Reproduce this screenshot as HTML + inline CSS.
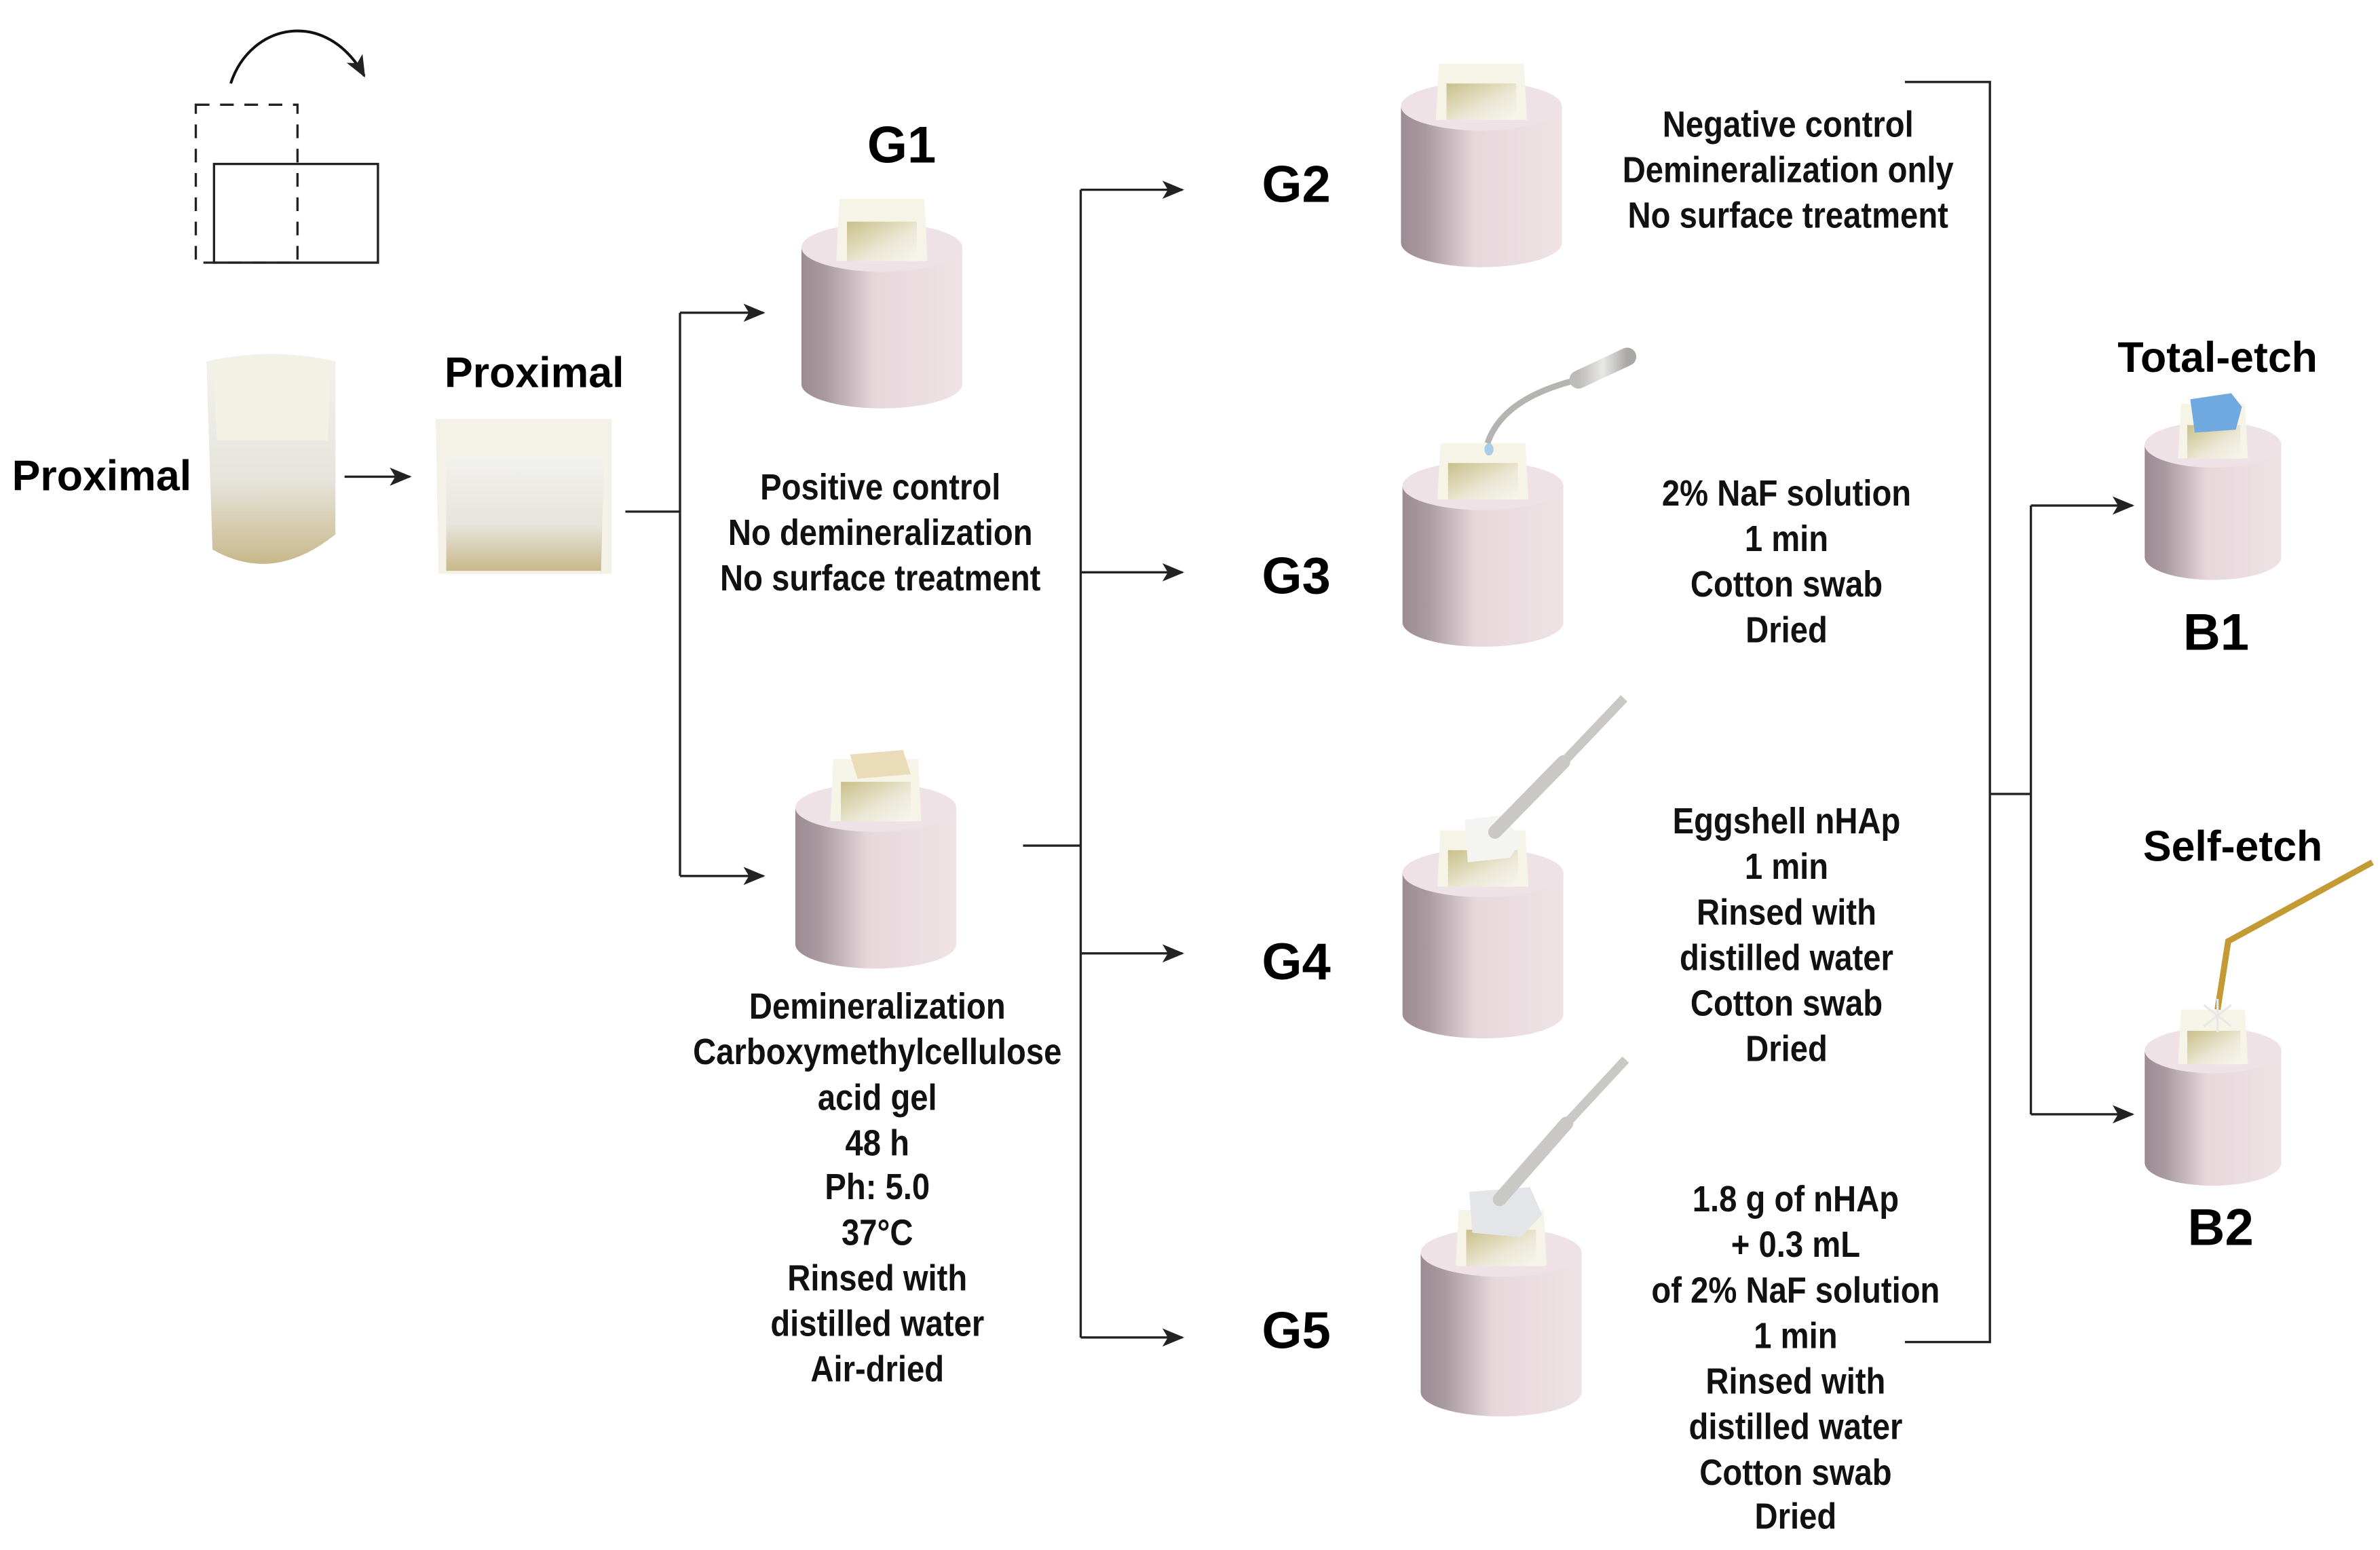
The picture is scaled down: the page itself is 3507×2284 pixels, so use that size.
<!DOCTYPE html>
<html><head><meta charset="utf-8"><style>
html,body{margin:0;padding:0;background:#fff;}
svg{display:block;}
.t{font-family:"Liberation Sans",sans-serif;font-weight:bold;font-size:24px;text-anchor:middle;fill:#111;}
.g{font-family:"Liberation Sans",sans-serif;font-weight:bold;font-size:34px;text-anchor:middle;fill:#000;}
.p{font-family:"Liberation Sans",sans-serif;font-weight:bold;font-size:28px;text-anchor:middle;fill:#000;}
</style></head><body>
<svg width="3507" height="2284" viewBox="0 0 1568 1021" preserveAspectRatio="none" xmlns="http://www.w3.org/2000/svg">
<defs>
<linearGradient id="side" x1="0" x2="1" y1="0" y2="0">
<stop offset="0" stop-color="#9d8b92"/><stop offset="0.15" stop-color="#a99aa0"/><stop offset="0.45" stop-color="#e6d7db"/><stop offset="1" stop-color="#efe3e6"/></linearGradient>
<linearGradient id="inner" x1="0" x2="1" y1="0" y2="1">
<stop offset="0" stop-color="#c9bf8a"/><stop offset="0.6" stop-color="#ece8d6"/><stop offset="1" stop-color="#f6f5ef"/></linearGradient>
<linearGradient id="tooth" x1="0" x2="0" y1="0" y2="1">
<stop offset="0" stop-color="#f2f2ef"/><stop offset="0.6" stop-color="#e6e4dc"/><stop offset="1" stop-color="#c8b88a"/></linearGradient>
<linearGradient id="swab" x1="0" x2="1" y1="0" y2="0">
<stop offset="0" stop-color="#bdbcb8"/><stop offset="0.5" stop-color="#e8e8e6"/><stop offset="1" stop-color="#a9a8a4"/></linearGradient>
<marker id="ah" viewBox="0 0 12 10" refX="11" refY="5" markerWidth="16" markerHeight="12" markerUnits="userSpaceOnUse" orient="auto">
<path d="M0,0 L12,5 L0,10 L3,5 Z" fill="#222"/></marker>
</defs>

<rect x="129" y="69" width="67" height="104" fill="none" stroke="#222" stroke-width="1.5" stroke-dasharray="9,7"/>
<rect x="141" y="108" width="108" height="65" fill="none" stroke="#222" stroke-width="1.5"/>
<path d="M152,55 C165,15 215,5 240,50" fill="none" stroke="#111" stroke-width="1.8" marker-end="url(#ah)"/>

<path d="M136,238 Q178,228 221,238 L221,352 Q180,385 140,362 Z" fill="url(#tooth)"/>
<path d="M140,238 Q178,230 218,238 L216,290 L143,290 Z" fill="#f3f1e4"/>
<path d="M287,276 L403,276 L403,378 L289,378 Z" fill="#f4f2e6"/>
<path d="M294,300 L398,300 L396,376 L294,376 Z" fill="url(#tooth)"/>

<text class="p" x="67" y="323">Proximal</text>
<text class="p" x="352" y="255">Proximal</text>

<g stroke="#222" stroke-width="1.5" fill="none">
<line x1="227" y1="314" x2="270" y2="314" marker-end="url(#ah)"/>
<polyline points="412,337 448,337"/>
<line x1="448" y1="206" x2="448" y2="577"/>
<line x1="448" y1="206" x2="503" y2="206" marker-end="url(#ah)"/>
<line x1="448" y1="577" x2="503" y2="577" marker-end="url(#ah)"/>
<line x1="674" y1="557" x2="712" y2="557"/>
<line x1="712" y1="125" x2="712" y2="881"/>
<line x1="712" y1="125" x2="779" y2="125" marker-end="url(#ah)"/>
<line x1="712" y1="377" x2="779" y2="377" marker-end="url(#ah)"/>
<line x1="712" y1="628" x2="779" y2="628" marker-end="url(#ah)"/>
<line x1="712" y1="881" x2="779" y2="881" marker-end="url(#ah)"/>
<polyline points="1255,54 1311,54 1311,884 1255,884"/>
<line x1="1311" y1="523" x2="1338" y2="523"/>
<line x1="1338" y1="333" x2="1338" y2="734"/>
<line x1="1338" y1="333" x2="1405" y2="333" marker-end="url(#ah)"/>
<line x1="1338" y1="734" x2="1405" y2="734" marker-end="url(#ah)"/>
</g>

<g>
<g><rect x="528" y="163" width="106" height="90" fill="url(#side)"/><ellipse cx="581" cy="253" rx="53" ry="16" fill="url(#side)"/><ellipse cx="581" cy="163" rx="53" ry="16" fill="#efe2e6"/>
<path d="M553,131 L609,131 L611,172 L551,172 Z" fill="#f6f4e6"/><rect x="558" y="146" width="46" height="26" fill="url(#inner)"/></g>
<g><rect x="524" y="532" width="106" height="90" fill="url(#side)"/><ellipse cx="577" cy="622" rx="53" ry="16" fill="url(#side)"/><ellipse cx="577" cy="532" rx="53" ry="16" fill="#efe2e6"/>
<path d="M549,500 L605,500 L607,541 L547,541 Z" fill="#f6f4e6"/><rect x="554" y="515" width="46" height="26" fill="url(#inner)"/>
<path d="M560,497 L595,494 L600,510 L565,513 Z" fill="#eadcb8"/></g>
<g><rect x="923" y="70" width="106" height="90" fill="url(#side)"/><ellipse cx="976" cy="160" rx="53" ry="16" fill="url(#side)"/><ellipse cx="976" cy="70" rx="53" ry="16" fill="#efe2e6"/>
<path d="M948,42 L1004,42 L1006,79 L946,79 Z" fill="#f6f4e6"/><rect x="953" y="55" width="46" height="24" fill="url(#inner)"/></g>
<g><rect x="924" y="320" width="106" height="90" fill="url(#side)"/><ellipse cx="977" cy="410" rx="53" ry="16" fill="url(#side)"/><ellipse cx="977" cy="320" rx="53" ry="16" fill="#efe2e6"/>
<path d="M949,292 L1005,292 L1007,329 L947,329 Z" fill="#f6f4e6"/><rect x="954" y="305" width="46" height="24" fill="url(#inner)"/></g>
<g><rect x="924" y="575" width="106" height="93" fill="url(#side)"/><ellipse cx="977" cy="668" rx="53" ry="16" fill="url(#side)"/><ellipse cx="977" cy="575" rx="53" ry="16" fill="#efe2e6"/>
<path d="M949,547 L1005,547 L1007,584 L947,584 Z" fill="#f6f4e6"/><rect x="954" y="560" width="46" height="24" fill="url(#inner)"/>
<path d="M965,540 L990,537 L1002,553 L995,565 L967,568 Z" fill="#f4f4f2"/></g>
<g><rect x="936" y="825" width="106" height="92" fill="url(#side)"/><ellipse cx="989" cy="917" rx="53" ry="16" fill="url(#side)"/><ellipse cx="989" cy="825" rx="53" ry="16" fill="#efe2e6"/>
<path d="M961,797 L1017,797 L1019,834 L959,834 Z" fill="#f6f4e6"/><rect x="966" y="810" width="46" height="24" fill="url(#inner)"/>
<path d="M968,785 L1008,782 L1016,800 L1002,815 L970,812 Z" fill="#e4e5e8"/></g>
<g><rect x="1413" y="293" width="90" height="74" fill="url(#side)"/><ellipse cx="1458" cy="367" rx="45" ry="15" fill="url(#side)"/><ellipse cx="1458" cy="293" rx="45" ry="15" fill="#efe2e6"/>
<path d="M1437,266 L1479,266 L1481,302 L1435,302 Z" fill="#f6f4e6"/><rect x="1441" y="280" width="35" height="22" fill="url(#inner)"/>
<path d="M1443,263 L1470,259 L1477,268 L1473,283 L1446,285 Z" fill="#6fa9df"/></g>
<g><rect x="1413" y="692" width="90" height="74" fill="url(#side)"/><ellipse cx="1458" cy="766" rx="45" ry="15" fill="url(#side)"/><ellipse cx="1458" cy="692" rx="45" ry="15" fill="#efe2e6"/>
<path d="M1437,665 L1479,665 L1481,701 L1435,701 Z" fill="#f6f4e6"/><rect x="1441" y="679" width="35" height="22" fill="url(#inner)"/></g>
</g>

<path d="M980,292 Q990,262 1040,250" fill="none" stroke="#b5b4b0" stroke-width="4"/>
<line x1="1040" y1="250" x2="1072" y2="235" stroke="url(#swab)" stroke-width="12" stroke-linecap="round"/>
<ellipse cx="981" cy="296" rx="3" ry="4" fill="#a9cde8"/>
<line x1="985" y1="548" x2="1030" y2="502" stroke="#c9c8c4" stroke-width="9" stroke-linecap="round"/>
<line x1="1030" y1="502" x2="1070" y2="460" stroke="#c9c8c4" stroke-width="6"/>
<line x1="988" y1="790" x2="1032" y2="740" stroke="#c9c8c4" stroke-width="9" stroke-linecap="round"/>
<line x1="1032" y1="740" x2="1071" y2="698" stroke="#c9c8c4" stroke-width="6"/>
<polyline points="1461,665 1468,620 1563,568" fill="none" stroke="#c49a35" stroke-width="4"/>
<g stroke="#e8e8e8" stroke-width="1.5"><line x1="1452" y1="662" x2="1470" y2="676"/><line x1="1470" y1="662" x2="1452" y2="676"/><line x1="1461" y1="658" x2="1461" y2="680"/></g>

<text class="g" x="594" y="107">G1</text>
<text class="g" x="854" y="133">G2</text>
<text class="g" x="854" y="391">G3</text>
<text class="g" x="854" y="645">G4</text>
<text class="g" x="854" y="888">G5</text>
<text class="p" x="1461" y="245">Total-etch</text>
<text class="g" x="1460" y="428">B1</text>
<text class="p" x="1471" y="567">Self-etch</text>
<text class="g" x="1463" y="820">B2</text>

<g transform="translate(580,0) scale(0.88,1)">
<text class="t" x="0" y="329">Positive control</text>
<text class="t" x="0" y="359">No demineralization</text>
<text class="t" x="0" y="389">No surface treatment</text>
</g>
<g transform="translate(578,0) scale(0.88,1)">
<text class="t" x="0" y="671">Demineralization</text>
<text class="t" x="0" y="701">Carboxymethylcellulose</text>
<text class="t" x="0" y="731">acid gel</text>
<text class="t" x="0" y="761">48 h</text>
<text class="t" x="0" y="790">Ph: 5.0</text>
<text class="t" x="0" y="820">37°C</text>
<text class="t" x="0" y="850">Rinsed with</text>
<text class="t" x="0" y="880">distilled water</text>
<text class="t" x="0" y="910">Air-dried</text>
</g>
<g transform="translate(1178,0) scale(0.88,1)">
<text class="t" x="0" y="90">Negative control</text>
<text class="t" x="0" y="120">Demineralization only</text>
<text class="t" x="0" y="150">No surface treatment</text>
</g>
<g transform="translate(1177,0) scale(0.88,1)">
<text class="t" x="0" y="333">2% NaF solution</text>
<text class="t" x="0" y="363">1 min</text>
<text class="t" x="0" y="393">Cotton swab</text>
<text class="t" x="0" y="423">Dried</text>
</g>
<g transform="translate(1177,0) scale(0.88,1)">
<text class="t" x="0" y="549">Eggshell nHAp</text>
<text class="t" x="0" y="579">1 min</text>
<text class="t" x="0" y="609">Rinsed with</text>
<text class="t" x="0" y="639">distilled water</text>
<text class="t" x="0" y="669">Cotton swab</text>
<text class="t" x="0" y="699">Dried</text>
</g>
<g transform="translate(1183,0) scale(0.88,1)">
<text class="t" x="0" y="798">1.8 g of nHAp</text>
<text class="t" x="0" y="828">+ 0.3 mL</text>
<text class="t" x="0" y="858">of 2% NaF solution</text>
<text class="t" x="0" y="888">1 min</text>
<text class="t" x="0" y="918">Rinsed with</text>
<text class="t" x="0" y="948">distilled water</text>
<text class="t" x="0" y="978">Cotton swab</text>
<text class="t" x="0" y="1007">Dried</text>
</g>
</svg>
</body></html>
